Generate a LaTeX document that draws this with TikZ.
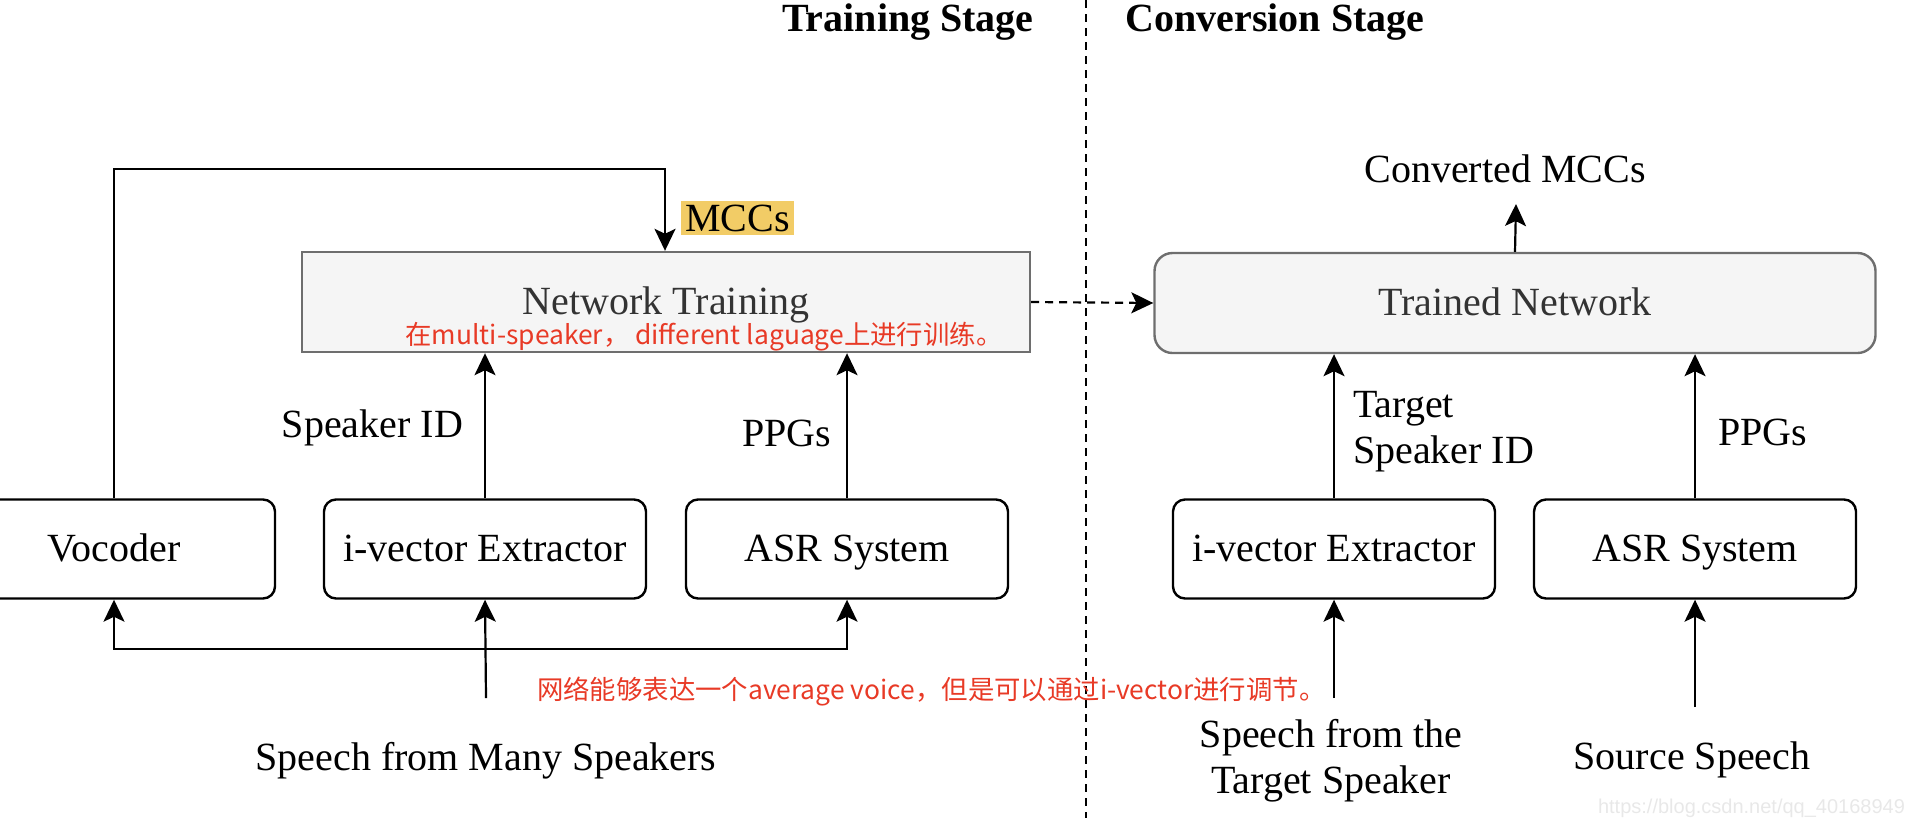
\documentclass[tikz,border=0pt]{standalone}
\usepackage{fontspec}
\setmainfont{Liberation Serif}
\newfontfamily\cjk{Noto Sans CJK SC}
\newfontfamily\wmfont{Liberation Sans}
\usepackage{tikz}
\usetikzlibrary{arrows.meta}
\usepackage{xcolor}
\definecolor{notered}{RGB}{232,58,38}
\definecolor{mccyellow}{RGB}{242,204,102}
\definecolor{boxgray}{RGB}{245,245,245}
\definecolor{edgegray}{RGB}{110,110,110}
\definecolor{textgray}{RGB}{51,51,51}

\tikzset{
  block/.style={draw, line width=1.2pt, rounded corners=6pt, minimum width=161pt, minimum height=49.5pt, text height=15pt, text depth=2.5pt},
  netbox/.style={draw=edgegray, fill=boxgray, line width=1.2pt, minimum height=50pt, text=textgray, text height=15pt, text depth=2.5pt},
  arr/.style={-{Stealth[length=11pt,width=10.5pt,inset=2.5pt]}, line width=1.1pt},
  note/.style={text=notered, font=\cjk\fontsize{13.2}{15}\selectfont},
  stagetitle/.style={font=\bfseries\fontsize{20}{22}\selectfont}
}

\begin{document}
\begin{tikzpicture}[x=0.5pt,y=-0.5pt,font=\fontsize{20}{23}\selectfont]
\useasboundingbox (0,0) rectangle (1920,826);

% stages
\draw [line width=0.8pt, dash pattern=on 4pt off 3pt] (1086,0) -- (1086,818);
\node [stagetitle] (ttrain) at (908,22) {Training Stage};
\node [stagetitle] (tconv) at (1275,22) {Conversion Stage};

% training stage
\node [block] (voc) at (114,549) {Vocoder};
\node [block] (iv1) at (485,549) {i-vector Extractor};
\node [block] (asr1) at (847,549) {ASR System};
\node [netbox, minimum width=364pt] (nt) at (666,302) {Network Training};
\node [note] (nt note) at (704,337) {在multi-speaker，\ different laguage上进行训练。};

\coordinate (loop) at (665,169);
\draw [arr] (voc.north) |- (loop) -- (loop |- nt.north);
\node [fill=mccyellow, inner sep=2pt, anchor=west] (mcc) at (681,218) {MCCs};

\draw [arr] (iv1.north) -- (iv1.north |- nt.south);
\node [anchor=east] (spk) at (470,428) {Speaker ID};
\draw [arr] (asr1.north) -- (asr1.north |- nt.south);
\node [anchor=east] (ppg1) at (838,433) {PPGs};

\coordinate (in1) at (486,698);
\coordinate (split) at (486,649);
\draw [arr] (in1) -- (iv1.south);
\draw [arr] (split) -| (voc.south);
\draw [arr] (split) -| (asr1.south);
\node (many) at (486,761) {Speech from Many Speakers};
\node [note, anchor=west] (avg note) at (530,692) {网络能够表达一个average voice，但是可以通过i-vector进行调节。};

% conversion stage
\node [netbox, rounded corners=9pt, minimum width=360.5pt] (tn) at (1515,303) {Trained Network};
\draw [arr, dash pattern=on 4pt off 3pt] (nt.east) -- (tn.west);

\node [block] (iv2) at (1334,549) {i-vector Extractor};
\node [block] (asr2) at (1695,549) {ASR System};

\coordinate (out) at (1516,204);
\draw [arr] (tn.north) -- (out);
\node (cmcc) at (1505,169) {Converted MCCs};

\draw [arr] (iv2.north) -- (iv2.north |- tn.south);
\node [anchor=west, align=left] (tspk) at (1346,432) {Target\\Speaker ID};
\draw [arr] (asr2.north) -- (asr2.north |- tn.south);
\node [anchor=west] (ppg2) at (1711,432) {PPGs};

\coordinate (in2) at (1334,698);
\draw [arr] (in2) -- (iv2.south);
\node [align=center] (tgt) at (1331,761) {Speech from the\\Target Speaker};
\coordinate (in3) at (1695,707);
\draw [arr] (in3) -- (asr2.south);
\node (src) at (1692,760) {Source Speech};

\node [text=gray!18, anchor=east, font=\wmfont\fontsize{10}{12}\selectfont] (wm) at (1912,808) {https://blog.csdn.net/qq\_40168949};

\end{tikzpicture}
\end{document}
